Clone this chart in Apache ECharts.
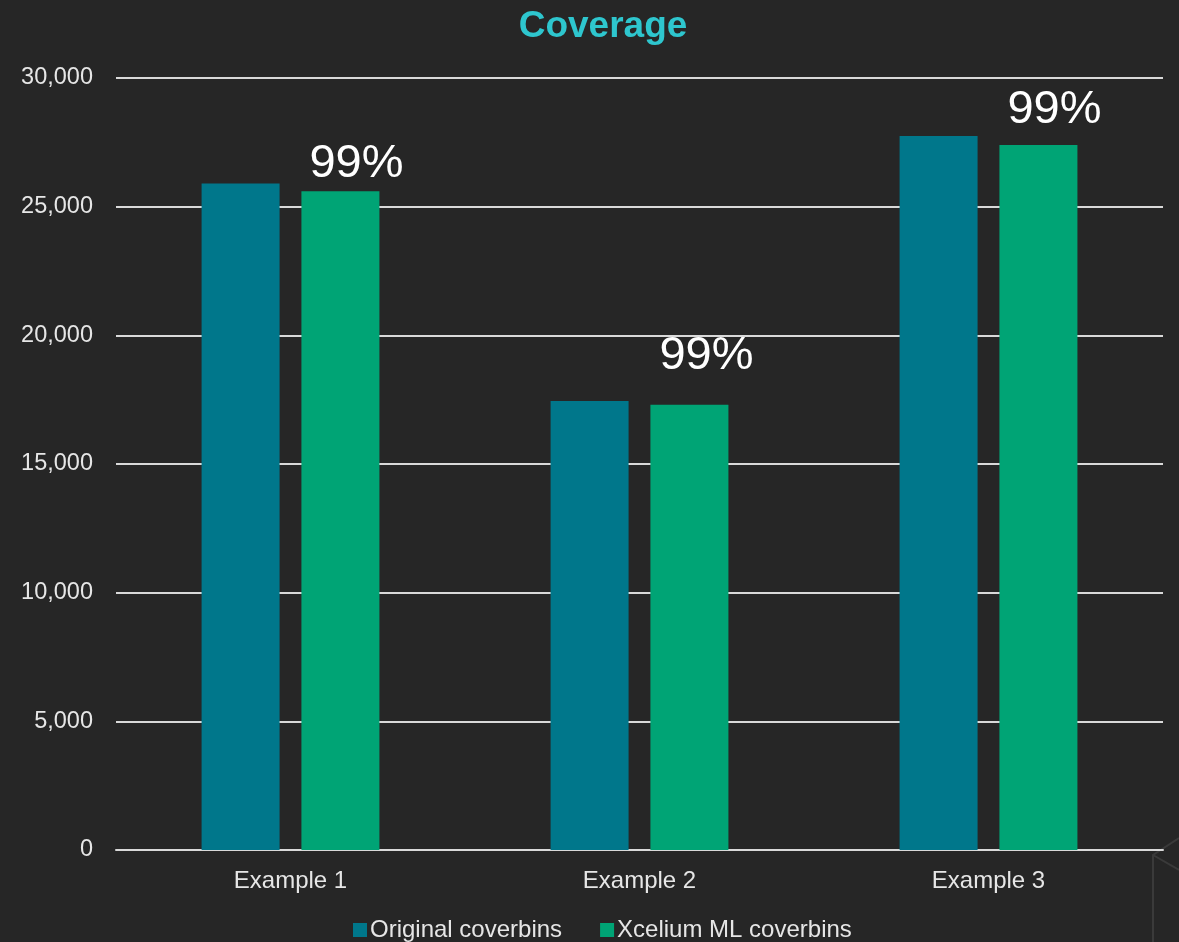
<!DOCTYPE html>
<html>
<head>
<meta charset="utf-8">
<script src="https://cdn.jsdelivr.net/npm/echarts@6/dist/echarts.min.js"></script>
<style>
html,body{margin:0;padding:0;background:#262626;}
#chart{width:1179px;height:942px;}
</style>
</head>
<body>
<div id="chart"></div>
<script>
const categories = ['Example 1', 'Example 2', 'Example 3'];
const originalCoverbins = [25900, 17450, 27750];
const xceliumCoverbins = [25600, 17300, 27400];
const coverageLabels = ['99%', '99%', '99%'];
const yTicks = { min: 0, max: 30000, interval: 5000 };
// label placement (style only)
const labelOffsets = [[16, -4], [17, -25], [16, -11]];

const chart = echarts.init(document.getElementById('chart'));
const font = 'Arial, "Liberation Sans", sans-serif';
chart.setOption({
  backgroundColor: '#262626',
  animation: false,
  title: {
    text: 'Coverage',
    left: 598, top: 3,
    textAlign: 'center',
    textStyle: { color: '#2EC6CE', fontSize: 37, fontWeight: 'bold', fontFamily: font }
  },
  legend: {
    bottom: -5, left: 348,
    itemWidth: 14, itemHeight: 14, itemGap: 38,
    icon: 'rect',
    textStyle: { color: '#e6e6e6', fontSize: 24, fontFamily: font, padding: [0, 0, 0, -2] },
    data: ['Original coverbins', 'Xcelium ML coverbins']
  },
  grid: { left: 116, right: 16, top: 78, bottom: 92, containLabel: false },
  xAxis: {
    type: 'category',
    data: categories,
    axisLine: { lineStyle: { color: '#d9d9d9', width: 2 } },
    axisTick: { show: false },
    axisLabel: { color: '#e6e6e6', fontSize: 24, fontFamily: font, margin: 19 }
  },
  yAxis: {
    type: 'value',
    min: yTicks.min, max: yTicks.max, interval: yTicks.interval,
    axisLine: { show: false },
    axisTick: { show: false },
    splitLine: { lineStyle: { color: '#d9d9d9', width: 2 } },
    axisLabel: {
      color: '#e6e6e6', fontSize: 23.5, fontFamily: font, margin: 23,
      formatter: v => v.toLocaleString('en-US')
    }
  },
  series: [
    {
      name: 'Original coverbins',
      type: 'bar',
      data: originalCoverbins,
      barWidth: 78,
      barGap: '28%',
      itemStyle: { color: '#00778B' }
    },
    {
      name: 'Xcelium ML coverbins',
      type: 'bar',
      data: xceliumCoverbins.map((v, i) => ({
        value: v,
        label: {
          show: true,
          position: 'top',
          distance: 0,
          offset: labelOffsets[i],
          formatter: coverageLabels[i],
          color: '#ffffff',
          fontSize: 47,
          fontFamily: font
        }
      })),
      barWidth: 78,
      itemStyle: { color: '#00A475' }
    }
  ],
  graphic: [
    {
      type: 'polyline',
      silent: true,
      shape: { points: [[1153, 942], [1153, 855], [1179, 838]] },
      style: { stroke: '#3a3a3a', lineWidth: 2, fill: null }
    },
    {
      type: 'polyline',
      silent: true,
      shape: { points: [[1153, 855], [1179, 870]] },
      style: { stroke: '#3a3a3a', lineWidth: 2, fill: null }
    }
  ]
});
</script>
</body>
</html>
